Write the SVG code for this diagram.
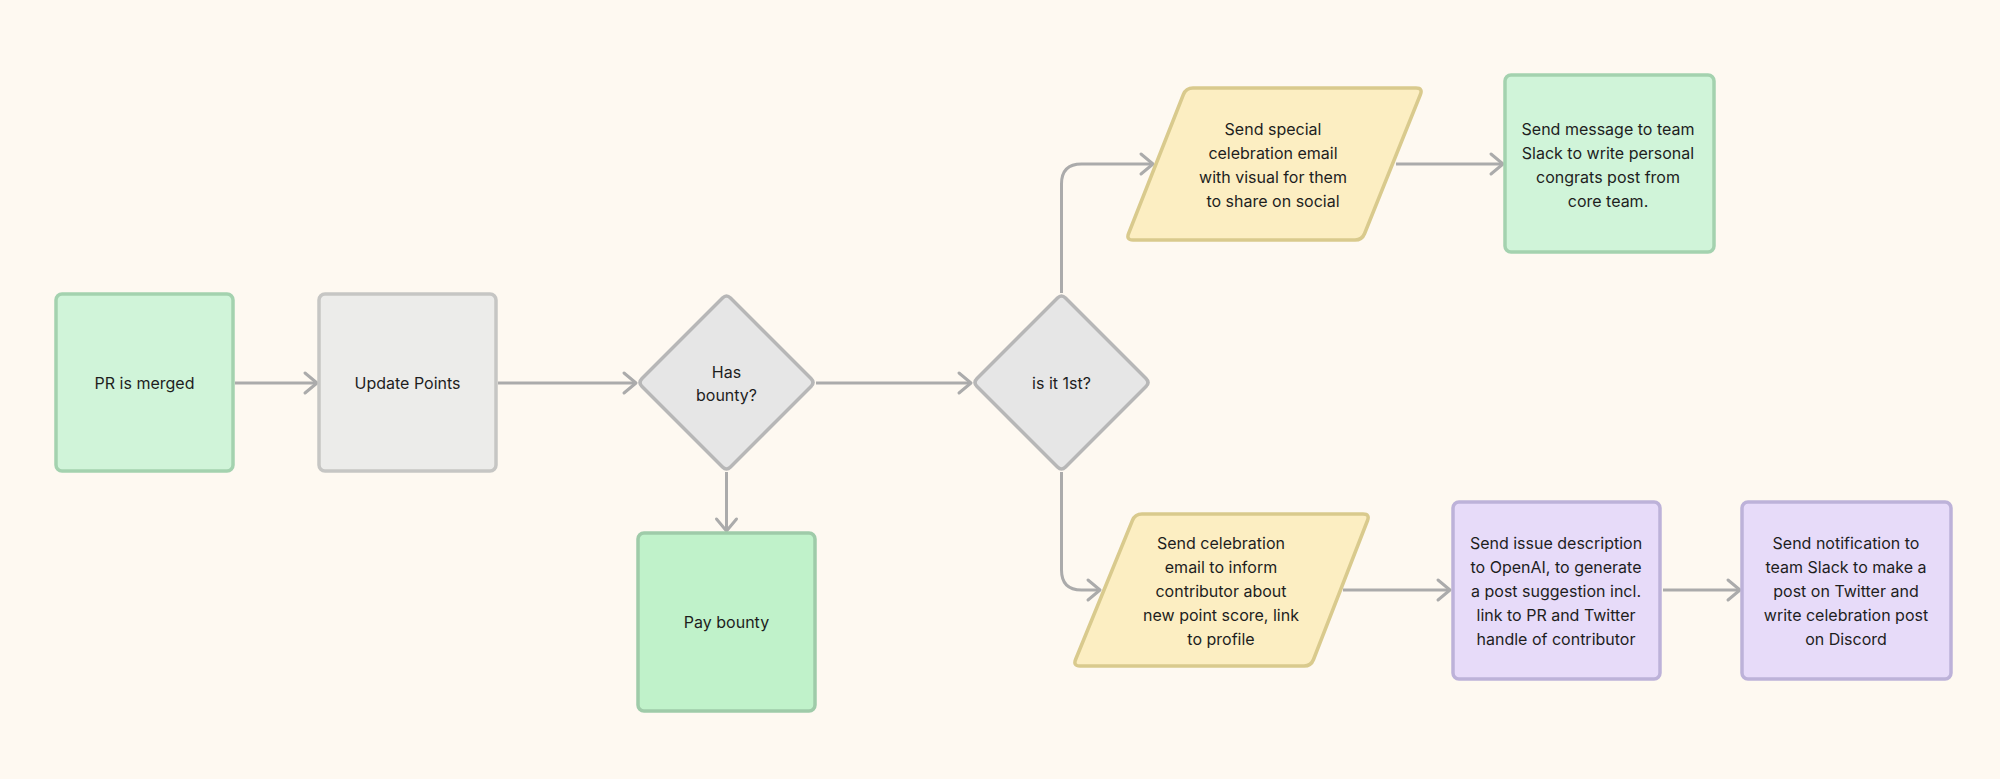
<svg xmlns="http://www.w3.org/2000/svg" width="2000" height="779" viewBox="0 0 2000 779">
<defs>
<style>
.bg{fill:#FEF9F1}
.green{fill:#D0F4D9;stroke:#A4D2AF;stroke-width:3.5}
.green2{fill:#C0F2CA;stroke:#9FCBA9;stroke-width:3.5}
.gray{fill:#ECECEA;stroke:#C6C6C4;stroke-width:3.5}
.dia{fill:#E6E6E6;stroke:#B7B7B7;stroke-width:3.5;stroke-linejoin:round}
.yel{fill:#FCEEC2;stroke:#D9CA8D;stroke-width:3.5;stroke-linejoin:round}
.pur{fill:#E7DBF9;stroke:#BDB2D9;stroke-width:3.5}
.conn path{fill:none;stroke:#ABABAB;stroke-width:3;marker-end:url(#arr)}
text{font-family:Inter,"Noto Sans","Liberation Sans",sans-serif;font-size:16px;fill:#1E1E1E;text-anchor:middle}
</style>
<marker id="arr" viewBox="-16 -13 19 26" markerWidth="19" markerHeight="26" refX="0" refY="0" orient="auto" markerUnits="userSpaceOnUse">
<path d="M-12,-10 L0,0 L-12,10" fill="none" stroke="#ABABAB" stroke-width="3" stroke-linecap="round" stroke-linejoin="round"/>
</marker>
</defs>
<rect class="bg" x="0" y="0" width="2000" height="779"/>
<g id="connectors" class="conn">
<path d="M235,383 H317"/>
<path d="M498,383 H636"/>
<path d="M816,383 H971"/>
<path d="M726.5,472 V531"/>
<path d="M1061.5,293 V184 Q1061.5,164 1081.5,164 H1153"/>
<path d="M1061.5,472 V570 Q1061.5,590 1081.5,590 H1100"/>
<path d="M1396,164 H1503"/>
<path d="M1343,590 H1450"/>
<path d="M1663,590 H1740"/>
</g>
<g id="pr-merged">
<rect class="green" x="56" y="294" width="177" height="177" rx="6"/>
<text x="144.5" y="389">PR is merged</text>
</g>
<g id="update-points">
<rect class="gray" x="319" y="294" width="177" height="177" rx="6"/>
<text x="407.5" y="389">Update Points</text>
</g>
<g id="has-bounty">
<path class="dia" d="M730.5,298 L811,378.5 Q815,382.5 811,386.5 L730.5,467 Q726.5,471 722.5,467 L642,386.5 Q638,382.5 642,378.5 L722.5,298 Q726.5,294 730.5,298 Z"/>
<text x="726.5" y="377.5">Has</text>
<text x="726.5" y="401">bounty?</text>
</g>
<g id="pay-bounty">
<rect class="green2" x="638" y="533" width="177" height="178" rx="6"/>
<text x="726.5" y="628">Pay bounty</text>
</g>
<g id="is-it-1st">
<path class="dia" d="M1065.5,298 L1146,378.5 Q1150,382.5 1146,386.5 L1065.5,467 Q1061.5,471 1057.5,467 L977,386.5 Q973,382.5 977,378.5 L1057.5,298 Q1061.5,294 1065.5,298 Z"/>
<text x="1061.5" y="389">is it 1st?</text>
</g>
<g id="special-email">
<path class="yel" d="M1193,88 L1416,88 Q1423,88 1420.4,94.5 L1364.6,233.5 Q1362,240 1355,240 L1133,240 Q1126,240 1128.6,233.5 L1183.4,94.5 Q1186,88 1193,88 Z"/>
<text x="1273" y="135">Send special</text>
<text x="1273" y="159">celebration email</text>
<text x="1273" y="183">with visual for them</text>
<text x="1273" y="207">to share on social</text>
</g>
<g id="slack-message">
<rect class="green" x="1505" y="75" width="209" height="177" rx="6"/>
<text x="1608" y="135">Send message to team</text>
<text x="1608" y="159">Slack to write personal</text>
<text x="1608" y="183">congrats post from</text>
<text x="1608" y="207">core team.</text>
</g>
<g id="celebration-email">
<path class="yel" d="M1142,514 L1363,514 Q1370,514 1367.5,520.5 L1313.5,659.5 Q1311,666 1304,666 L1080,666 Q1073,666 1075.6,659.5 L1132.4,520.5 Q1135,514 1142,514 Z"/>
<text x="1221" y="549">Send celebration</text>
<text x="1221" y="573">email to inform</text>
<text x="1221" y="597">contributor about</text>
<text x="1221" y="621">new point score, link</text>
<text x="1221" y="645">to profile</text>
</g>
<g id="openai">
<rect class="pur" x="1453" y="502" width="207" height="177" rx="6"/>
<text x="1556" y="549">Send issue description</text>
<text x="1556" y="573">to OpenAI, to generate</text>
<text x="1556" y="597">a post suggestion incl.</text>
<text x="1556" y="621">link to PR and Twitter</text>
<text x="1556" y="645">handle of contributor</text>
</g>
<g id="notification">
<rect class="pur" x="1742" y="502" width="209" height="177" rx="6"/>
<text x="1846" y="549">Send notification to</text>
<text x="1846" y="573">team Slack to make a</text>
<text x="1846" y="597">post on Twitter and</text>
<text x="1846" y="621">write celebration post</text>
<text x="1846" y="645">on Discord</text>
</g>
</svg>
